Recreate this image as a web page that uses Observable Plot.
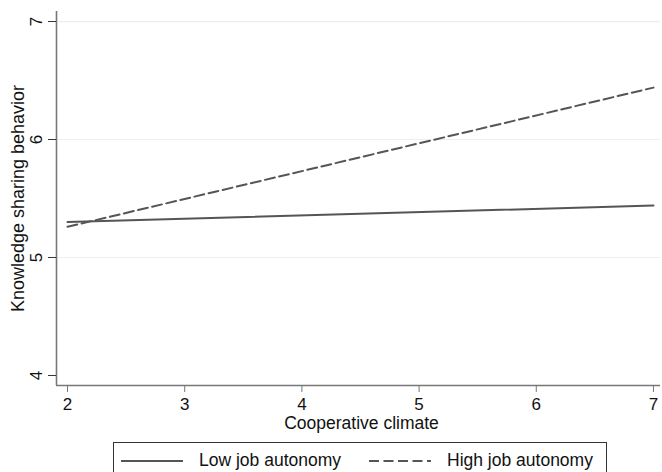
<!DOCTYPE html>
<html>
<head>
<meta charset="utf-8">
<script src="https://cdn.jsdelivr.net/npm/d3@7"></script>
<script src="https://cdn.jsdelivr.net/npm/@observablehq/plot@0.6"></script>
<style>
  html, body { margin: 0; padding: 0; background: #fff; font-family: "Liberation Sans", Arial, sans-serif; }
  #wrap { width: 662px; height: 472px; overflow: hidden; }
  #wrap > svg { display: block; }
  .legend { margin-left: 113px; margin-top: 6px; width: 494px; height: 40px; border: 1px solid #333; box-sizing: border-box; background: #fff; position: relative; }
  .legend .item { position: absolute; top: 7px; font-size: 17.5px; color: #111; display: flex; align-items: center; white-space: nowrap; }
  .legend svg { margin-right: 16px; }
</style>
</head>
<body>
<div id="wrap"></div>
<script>
// Data
const xValues = [2, 7];
const lowJobAutonomy = [5.30, 5.44];
const highJobAutonomy = [5.26, 6.44];
const seriesNames = ["Low job autonomy", "High job autonomy"];
const xTicks = [2, 3, 4, 5, 6, 7];
const yTicks = [4, 5, 6, 7];
const yGrid = [5, 6, 7];
const xDomain = [1.906, 7.06];
const yDomain = [3.915, 7.085];

const rows = [];
xValues.forEach((x, i) => {
  rows.push({ x, y: lowJobAutonomy[i], s: seriesNames[0] });
  rows.push({ x, y: highJobAutonomy[i], s: seriesNames[1] });
});

const lineColor = "#555";
const axisColor = "#777";
const dash = "10,4.5";

const chart = Plot.plot({
  width: 662,
  height: 436,
  marginLeft: 56,
  marginRight: 2,
  marginTop: 11,
  marginBottom: 51,
  style: { fontFamily: "Liberation Sans, Arial, sans-serif", fontSize: "17px", color: "#111", background: "#fff", overflow: "visible" },
  x: { domain: xDomain, ticks: xTicks },
  y: { domain: yDomain, ticks: yTicks },
  marks: [
    Plot.ruleY(yGrid, { stroke: "#eeeeee", strokeWidth: 1.2 }),
    Plot.ruleX([xDomain[0]], { stroke: axisColor, strokeWidth: 1.6 }),
    Plot.ruleY([yDomain[0]], { stroke: axisColor, strokeWidth: 1.6 }),
    Plot.axisX({ ticks: xTicks, tickSize: 7, tickPadding: 5, stroke: axisColor, label: null, fontSize: 17, fill: "#111", tickFormat: d3.format("d") }),
    Plot.axisY({ ticks: yTicks, tickSize: 8, stroke: "#333", label: null, text: null }),
    Plot.text(yTicks, { y: d => d, text: d => String(d), frameAnchor: "left", rotate: -90, dx: -20, textAnchor: "middle", lineAnchor: "middle", fontSize: 17, fill: "#111" }),
    Plot.line(rows.filter(d => d.s === seriesNames[0]), { x: "x", y: "y", stroke: lineColor, strokeWidth: 2 }),
    Plot.line(rows.filter(d => d.s === seriesNames[1]), { x: "x", y: "y", stroke: lineColor, strokeWidth: 2, strokeDasharray: dash }),
    Plot.text(["Cooperative climate"], { frameAnchor: "bottom", dy: 38, lineAnchor: "middle", fontSize: 17.5, fill: "#111", dx: 3 }),
    Plot.text(["Knowledge sharing behavior"], { frameAnchor: "left", rotate: -90, dx: -38, textAnchor: "middle", lineAnchor: "middle", fontSize: 18, fill: "#111" })
  ]
});

const wrap = document.getElementById("wrap");
wrap.appendChild(chart);

const legend = document.createElement("div");
legend.className = "legend";
const items = [
  { name: seriesNames[0], dash: null, left: 7 },
  { name: seriesNames[1], dash: dash, left: 255 }
];
items.forEach(it => {
  const d = document.createElement("div");
  d.className = "item";
  d.style.left = it.left + "px";
  const sw = `<svg width="62" height="10"><line x1="0" x2="62" y1="5" y2="5" stroke="${lineColor}" stroke-width="2" ${it.dash ? `stroke-dasharray="${it.dash}"` : ""}/></svg>`;
  d.innerHTML = sw + `<span>${it.name}</span>`;
  legend.appendChild(d);
});
wrap.appendChild(legend);
</script>
</body>
</html>
